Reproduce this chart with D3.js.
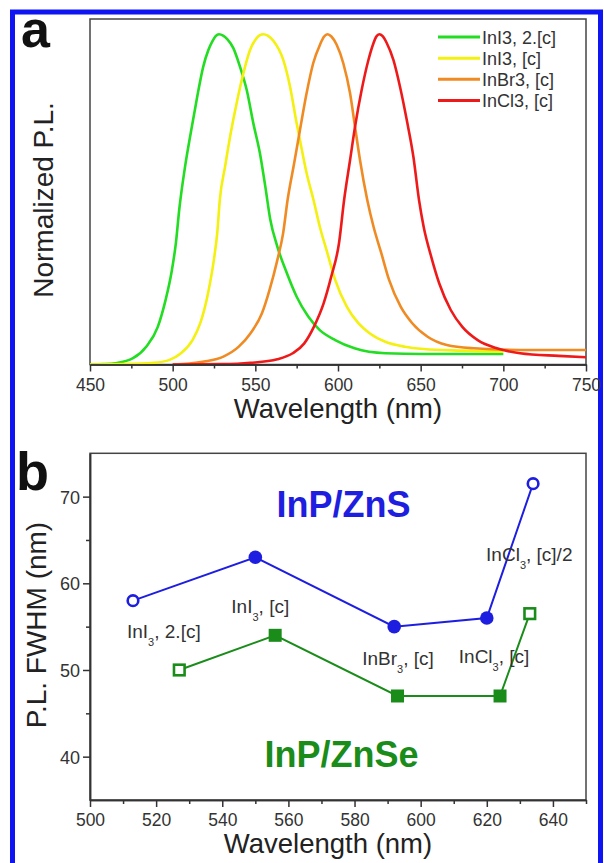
<!DOCTYPE html>
<html><head><meta charset="utf-8">
<script src="https://cdn.jsdelivr.net/npm/d3@7"></script>
<style>body{margin:0;background:#fff}svg{display:block}</style>
</head><body>
<script>
// ---------- Panel a data: normalized PL spectra [wavelength nm, intensity] ----------
const plGreen = [[450,0],[458,0.001],[465.5,0.004],[476,0.019],[484,0.054],[491,0.114],[495.7,0.195],[499.2,0.276],[502,0.37],[504,0.47],[507.5,0.599],[510.9,0.70],[514.5,0.801],[518.5,0.902],[521.6,0.952],[524,0.978],[526,0.994],[528,1.0],[530.5,0.996],[533,0.985],[536.7,0.958],[540.7,0.902],[544.8,0.831],[548.8,0.730],[552.8,0.639],[556,0.54],[559,0.44],[563.3,0.357],[569.1,0.276],[575,0.205],[582,0.145],[589,0.104],[598.3,0.074],[610,0.049],[628.6,0.034],[651.8,0.032],[700,0.032]];
const plYellow = [[450,0],[470,0.001],[488.7,0.005],[498.1,0.014],[505,0.034],[512,0.074],[516.7,0.125],[521.4,0.216],[524.9,0.316],[527,0.40],[528.5,0.498],[531.7,0.599],[535.1,0.700],[539.1,0.801],[543.8,0.902],[546.8,0.952],[550.8,0.988],[552.8,0.997],[554.8,1.0],[557.5,0.996],[560.9,0.980],[566.9,0.922],[571,0.841],[575,0.730],[577,0.679],[581,0.58],[585.2,0.498],[589,0.417],[593.6,0.337],[598.3,0.256],[605.3,0.175],[612.3,0.125],[619.3,0.094],[628.6,0.069],[640.3,0.054],[651.8,0.047],[675.1,0.042],[700,0.039]];
const plOrange = [[500,0],[510,0.003],[519,0.009],[530.7,0.024],[540,0.054],[547,0.094],[554,0.155],[558.6,0.226],[563.3,0.316],[566.8,0.397],[569.5,0.498],[573.5,0.61],[577,0.710],[581,0.821],[585,0.912],[589.1,0.968],[591.5,0.992],[593.7,1.0],[596,0.993],[599.2,0.968],[603.2,0.912],[607.3,0.821],[610.3,0.72],[613.3,0.619],[617.7,0.498],[621.5,0.417],[626.2,0.337],[630.9,0.256],[637.9,0.175],[644.9,0.125],[654.2,0.084],[665.8,0.059],[682.1,0.049],[710.1,0.044],[750,0.044]];
const plRed = [[500,0],[530,0.001],[547,0.005],[563.3,0.016],[572.6,0.034],[579.6,0.064],[585.4,0.114],[591.3,0.185],[595.9,0.266],[600.6,0.367],[603.7,0.498],[607.3,0.619],[610.3,0.72],[614.3,0.831],[618.4,0.922],[621.4,0.972],[623.2,0.993],[625,1.0],[627,0.994],[629.4,0.974],[633.5,0.922],[637.5,0.841],[641.6,0.740],[645.6,0.629],[649,0.498],[651.8,0.417],[656.4,0.326],[661.2,0.246],[668.2,0.165],[675.2,0.114],[684.5,0.074],[696.1,0.049],[710.1,0.034],[733.4,0.026],[750,0.022]];
const legendLabels = ["InI3, 2.[c]", "InI3, [c]", "InBr3, [c]", "InCl3, [c]"];
const aTicks = [450, 500, 550, 600, 650, 700, 750];

// ---------- Panel b data: PL FWHM ----------
const znsWavelength = [513, 550, 592, 620, 634];
const znsFWHM = [58, 63, 55, 56, 71.5];
const znsOpen = [true, false, false, false, true];
const znseWavelength = [527, 556, 593, 624, 633];
const znseFWHM = [50, 54, 47, 47, 56.5];
const znseOpen = [true, false, false, false, true];
const bXTicks = [500, 520, 540, 560, 580, 600, 620, 640];
const bYTicks = [40, 50, 60, 70];
const annotations = [
  {main:"InI", sub:"3", rest:", 2.[c]", x:513, y:58},
  {main:"InI", sub:"3", rest:", [c]", x:550, y:63},
  {main:"InBr", sub:"3", rest:", [c]", x:592, y:55},
  {main:"InCl", sub:"3", rest:", [c]", x:620, y:56},
  {main:"InCl", sub:"3", rest:", [c]/2", x:634, y:71.5}
];

const FONT = "'Liberation Sans', Arial, Helvetica, sans-serif";
const AX = "#333";
const W = 604, H = 863;
const svg = d3.select("body").append("svg").attr("width", W).attr("height", H)
  .style("font-family", FONT);
svg.append("rect").attr("width", W).attr("height", H).attr("fill", "#fff");
// blue frame
svg.append("rect").attr("x", 12.5).attr("y", 12).attr("width", 588).attr("height", 900)
  .attr("fill", "none").attr("stroke", "#0f14f2").attr("stroke-width", 5);

// ================= Panel a =================
const ax = d3.scaleLinear().domain([450, 750]).range([90, 586]);
const ay = d3.scaleLinear().domain([0, 1.046]).range([364.5, 19]);
const ga = svg.append("g");
ga.append("rect").attr("x", 90).attr("y", 19).attr("width", 496).attr("height", 345.5)
  .attr("fill", "none").attr("stroke", "#444").attr("stroke-width", 1.5);

const line = d3.line().x(d => ax(d[0])).y(d => ay(d[1])).curve(d3.curveMonotoneX);
const aSeries = [plGreen, plYellow, plOrange, plRed];
const aColors = ["#22dd22", "#f4f010", "#f08a22", "#ee1a1a"];
aSeries.forEach((s, i) => {
  ga.append("path").datum(s).attr("d", line).attr("fill", "none")
    .attr("stroke", aColors[i]).attr("stroke-width", 2.6).attr("stroke-linejoin", "round");
});

const axA = ga.append("g").attr("transform", "translate(0,364.5)");
axA.call(d3.axisBottom(ax).tickValues(aTicks).tickSize(7).tickSizeOuter(0).tickFormat(d3.format("d")));
const axAm = ga.append("g").attr("transform", "translate(0,364.5)");
axAm.call(d3.axisBottom(ax).tickValues(d3.range(475, 750, 50)).tickSize(4).tickSizeOuter(0).tickFormat(""));
[axA, axAm].forEach(g => {
  g.select(".domain").attr("stroke", AX).attr("stroke-width", 1.5);
  g.selectAll(".tick line").attr("stroke", AX).attr("stroke-width", 1.5);
});
axA.selectAll(".tick text").attr("y", 26.5).attr("dy", 0).attr("fill", AX)
  .style("font-size", "17.5px").style("font-family", FONT);

ga.append("text").attr("x", 338).attr("y", 418).attr("text-anchor", "middle")
  .attr("fill", "#222").style("font-size", "27.5px").text("Wavelength (nm)");
ga.append("text").attr("transform", "translate(53,200) rotate(-90)").attr("text-anchor", "middle")
  .attr("fill", "#222").style("font-size", "28px").text("Normalized P.L.");
ga.append("text").attr("x", 21).attr("y", 47).attr("fill", "#111")
  .style("font-size", "52px").style("font-weight", "bold").text("a");

// legend
const legY = d3.scaleLinear().domain([0, 3]).range([37, 100.5]);
legendLabels.forEach((lab, i) => {
  ga.append("line").attr("x1", 438).attr("x2", 480).attr("y1", legY(i)).attr("y2", legY(i))
    .attr("stroke", aColors[i]).attr("stroke-width", 3);
  ga.append("text").attr("x", 482).attr("y", legY(i) + 6.5).attr("fill", AX)
    .style("font-size", "18px").text(lab);
});

// ================= Panel b =================
const bx = d3.scaleLinear().domain([500, 650]).range([90, 586]);
const by = d3.scaleLinear().domain([35, 75]).range([800, 453.3]);
const gb = svg.append("g");
gb.append("rect").attr("x", 90).attr("y", 453.3).attr("width", 496).attr("height", 346.7)
  .attr("fill", "none").attr("stroke", "#444").attr("stroke-width", 1.5);

const bxAxis = gb.append("g").attr("transform", "translate(0,800)")
  .call(d3.axisBottom(bx).tickValues(bXTicks).tickSize(7).tickSizeOuter(0).tickFormat(d3.format("d")));
const bxMinor = gb.append("g").attr("transform", "translate(0,800)")
  .call(d3.axisBottom(bx).tickValues(d3.range(510, 660, 20)).tickSize(4).tickSizeOuter(0).tickFormat(""));
const byAxis = gb.append("g").attr("transform", "translate(90,0)")
  .call(d3.axisLeft(by).tickValues(bYTicks).tickSize(7).tickSizeOuter(0).tickFormat(d3.format("d")));
const byMinor = gb.append("g").attr("transform", "translate(90,0)")
  .call(d3.axisLeft(by).tickValues([45, 55, 65]).tickSize(4).tickSizeOuter(0).tickFormat(""));
[bxAxis, bxMinor, byAxis, byMinor].forEach(g => {
  g.select(".domain").attr("stroke", AX).attr("stroke-width", 1.5);
  g.selectAll(".tick line").attr("stroke", AX).attr("stroke-width", 1.5);
});
bxAxis.selectAll(".tick text").attr("y", 26).attr("dy", 0).attr("fill", AX)
  .style("font-size", "17.5px").style("font-family", FONT);
byAxis.selectAll(".tick text").attr("x", -10).attr("dy", "0.36em").attr("fill", AX)
  .style("font-size", "18px").style("font-family", FONT);

gb.append("text").attr("x", 328).attr("y", 853).attr("text-anchor", "middle")
  .attr("fill", "#222").style("font-size", "27.5px").text("Wavelength (nm)");
gb.append("text").attr("transform", "translate(46,625) rotate(-90)").attr("text-anchor", "middle")
  .attr("fill", "#222").style("font-size", "28px").text("P.L. FWHM (nm)");
gb.append("text").attr("x", 16).attr("y", 490).attr("fill", "#111")
  .style("font-size", "54px").style("font-weight", "bold").text("b");

const BLUE = "#1e1ee0", GREEN = "#1a8c1a";
const znsData = znsWavelength.map((w, i) => ({x: w, y: znsFWHM[i], open: znsOpen[i]}));
const znseData = znseWavelength.map((w, i) => ({x: w, y: znseFWHM[i], open: znseOpen[i]}));
const bline = d3.line().x(d => bx(d.x)).y(d => by(d.y));
gb.append("path").datum(znsData).attr("d", bline).attr("fill", "none").attr("stroke", BLUE).attr("stroke-width", 2);
gb.append("path").datum(znseData).attr("d", bline).attr("fill", "none").attr("stroke", GREEN).attr("stroke-width", 2);

gb.selectAll(".zns").data(znsData).join("circle")
  .attr("cx", d => bx(d.x)).attr("cy", d => by(d.y))
  .attr("r", d => d.open ? 5.3 : 6.8)
  .attr("fill", d => d.open ? "#fff" : BLUE)
  .attr("stroke", BLUE).attr("stroke-width", d => d.open ? 2.6 : 0);
gb.selectAll(".znse").data(znseData).join("rect")
  .attr("x", d => bx(d.x) - (d.open ? 5.3 : 6.5)).attr("y", d => by(d.y) - (d.open ? 5.3 : 6.5))
  .attr("width", d => d.open ? 10.6 : 13).attr("height", d => d.open ? 10.6 : 13)
  .attr("fill", d => d.open ? "#fff" : GREEN)
  .attr("stroke", GREEN).attr("stroke-width", d => d.open ? 2.6 : 0);

// annotation label positions (offsets from marker, in px)
const annOffsets = [[-6, 37], [-24, 56], [-32, 38], [-28, 45], [-47, 77]];
annotations.forEach((a, i) => {
  const t = gb.append("text").attr("x", bx(a.x) + annOffsets[i][0]).attr("y", by(a.y) + annOffsets[i][1])
    .attr("fill", "#333").style("font-size", "19px");
  t.append("tspan").text(a.main);
  t.append("tspan").attr("dy", 8).style("font-size", "11px").text(a.sub);
  t.append("tspan").attr("dy", -8).text(a.rest);
});

gb.append("text").attr("x", 343.5).attr("y", 517).attr("text-anchor", "middle")
  .attr("fill", BLUE).style("font-size", "36px").style("font-weight", "bold").text("InP/ZnS");
gb.append("text").attr("x", 341.5).attr("y", 767).attr("text-anchor", "middle")
  .attr("fill", GREEN).style("font-size", "36px").style("font-weight", "bold").text("InP/ZnSe");
</script>
</body></html>
